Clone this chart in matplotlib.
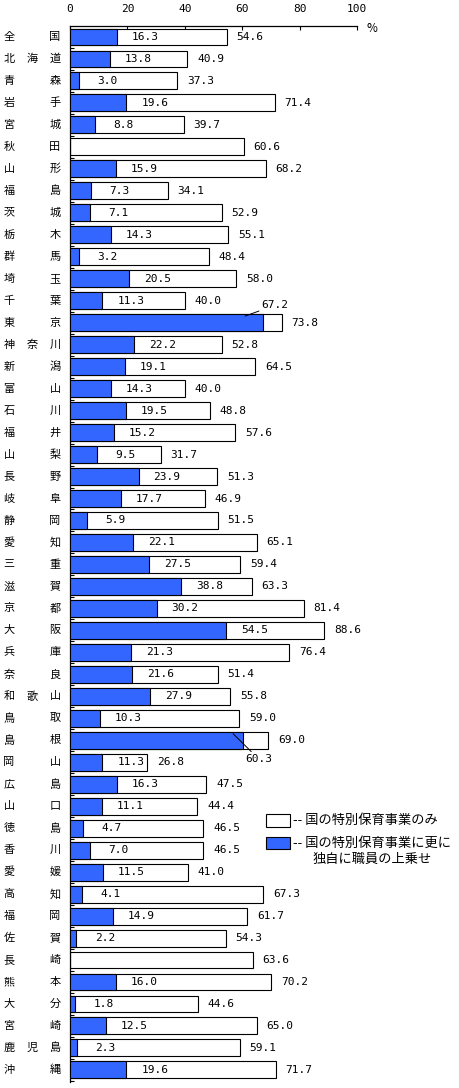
import numpy as np
import matplotlib
matplotlib.use('Agg')
import matplotlib.pyplot as plt
from matplotlib.patches import Rectangle
from matplotlib.transforms import blended_transform_factory

plt.rcParams['font.family'] = ['Noto Sans CJK JP', 'DejaVu Sans']

## data
prefectures = ['全国', '北海道', '青森', '岩手', '宮城', '秋田', '山形', '福島', '茨城', '栃木',
               '群馬', '埼玉', '千葉', '東京', '神奈川', '新潟', '富山', '石川', '福井', '山梨',
               '長野', '岐阜', '静岡', '愛知', '三重', '滋賀', '京都', '大阪', '兵庫', '奈良',
               '和歌山', '鳥取', '島根', '岡山', '広島', '山口', '徳島', '香川', '愛媛', '高知',
               '福岡', '佐賀', '長崎', '熊本', '大分', '宮崎', '鹿児島', '沖縄']

# 国の特別保育事業 (total)
total = [54.6, 40.9, 37.3, 71.4, 39.7, 60.6, 68.2, 34.1, 52.9, 55.1,
         48.4, 58.0, 40.0, 73.8, 52.8, 64.5, 40.0, 48.8, 57.6, 31.7,
         51.3, 46.9, 51.5, 65.1, 59.4, 63.3, 81.4, 88.6, 76.4, 51.4,
         55.8, 59.0, 69.0, 26.8, 47.5, 44.4, 46.5, 46.5, 41.0, 67.3,
         61.7, 54.3, 63.6, 70.2, 44.6, 65.0, 59.1, 71.7]

# 独自に職員の上乗せ (None = no value shown)
extra = [16.3, 13.8, 3.0, 19.6, 8.8, None, 15.9, 7.3, 7.1, 14.3,
         3.2, 20.5, 11.3, 67.2, 22.2, 19.1, 14.3, 19.5, 15.2, 9.5,
         23.9, 17.7, 5.9, 22.1, 27.5, 38.8, 30.2, 54.5, 21.3, 21.6,
         27.9, 10.3, 60.3, 11.3, 16.3, 11.1, 4.7, 7.0, 11.5, 4.1,
         14.9, 2.2, None, 16.0, 1.8, 12.5, 2.3, 19.6]

x_ticks = [0, 20, 40, 60, 80, 100]

legend_labels = ['-- 国の特別保育事業のみ', '-- 国の特別保育事業に更に', '独自に職員の上乗せ']

BLUE = '#3366ff'
W, H = 460, 1088
num_font = dict(family='DejaVu Sans Mono', fontsize=8)


def fx(px):
    return px / W


def fy(py):
    return 1 - py / H


def plot_chart():
    fig = plt.figure(figsize=(W / 100, H / 100), dpi=100)
    ax = fig.add_axes([fx(70), fy(1082), fx(357) - fx(70), fy(26) - fy(1082)])

    y = np.arange(len(prefectures))
    ext = np.array([np.nan if v is None else v for v in extra])
    has = ~np.isnan(ext)

    ax.barh(y, total, height=0.77, color='white', edgecolor='black', linewidth=0.8, zorder=2)
    ax.barh(y[has], ext[has], height=0.77, color=BLUE, edgecolor='black', linewidth=0.8, zorder=3)

    ax.set_xlim(0, 100)
    ax.set_ylim(len(prefectures) - 0.45, -0.5)

    # axis look: only top + left
    ax.spines['right'].set_visible(False)
    ax.spines['bottom'].set_visible(False)
    ax.spines['top'].set_linewidth(0.9)
    ax.spines['left'].set_linewidth(0.9)
    ax.xaxis.tick_top()
    ax.set_xticks(x_ticks)
    ax.set_xticklabels([str(t) for t in x_ticks], **num_font)
    ax.tick_params(axis='x', direction='in', length=3, width=0.8, pad=9)
    ax.set_yticks(y + 0.5)
    ax.set_yticklabels([])
    ax.tick_params(axis='y', direction='in', length=3, width=0.8)

    # value labels
    for i, t in enumerate(total):
        ax.annotate(f'{t:.1f}', xy=(t, i), xytext=(7, 0), textcoords='offset points',
                    ha='left', va='center', **num_font)
    for i, v in enumerate(extra):
        if v is None:
            continue
        name = prefectures[i]
        if name == '東京':
            ax.annotate(f'{v:.1f}', xy=(61, i - 0.3), xytext=(66.8, i - 0.8),
                        ha='left', va='center', zorder=5,
                        arrowprops=dict(arrowstyle='-', lw=0.7, color='black',
                                        shrinkA=0, shrinkB=0), **num_font)
        elif name == '島根':
            ax.annotate(f'{v:.1f}', xy=(56.8, i - 0.3), xytext=(61.2, i + 0.87),
                        ha='left', va='center', zorder=5,
                        arrowprops=dict(arrowstyle='-', lw=0.7, color='black',
                                        shrinkA=0, shrinkB=0), **num_font)
        else:
            ax.annotate(f'{v:.1f}', xy=(v, i), xytext=(20.5, 0), textcoords='offset points',
                        ha='center', va='center', zorder=5, **num_font)

    # prefecture names, characters spread out
    tr = blended_transform_factory(fig.transFigure, ax.transData)
    for i, name in enumerate(prefectures):
        xs = [9, 55] if len(name) == 2 else [9, 32, 55]
        for ch, px in zip(name, xs):
            ax.text(fx(px), i, ch, transform=tr, ha='center', va='center',
                    fontsize=8, clip_on=False)

    fig.text(fx(372), fy(28), '%', ha='center', va='center', fontsize=8.5)

    # legend
    fig.patches.append(Rectangle((fx(266), fy(827)), fx(290) - fx(266), fy(814) - fy(827),
                                 transform=fig.transFigure, facecolor='white',
                                 edgecolor='black', linewidth=0.8))
    fig.patches.append(Rectangle((fx(266), fy(849)), fx(290) - fx(266), fy(837) - fy(849),
                                 transform=fig.transFigure, facecolor=BLUE,
                                 edgecolor='black', linewidth=0.8))
    fig.text(fx(293), fy(820), legend_labels[0], ha='left', va='center', fontsize=9.5)
    fig.text(fx(293), fy(843), legend_labels[1], ha='left', va='center', fontsize=9.5)
    fig.text(fx(313), fy(859), legend_labels[2], ha='left', va='center', fontsize=9.5)

    fig.savefig('out.png', dpi=100)


if __name__ == '__main__':
    plot_chart()
